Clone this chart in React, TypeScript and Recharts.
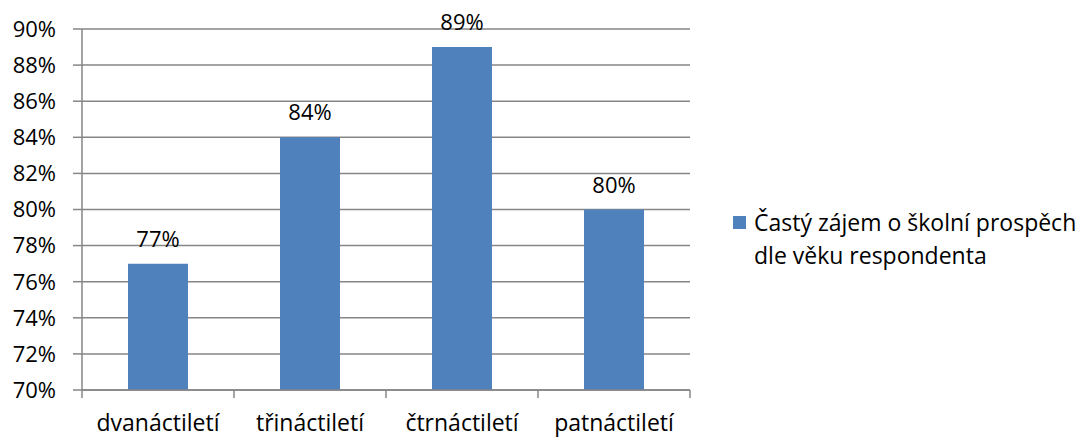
import React from "react";
import {
  BarChart,
  Bar,
  CartesianGrid,
  XAxis,
  YAxis,
  LabelList,
} from "recharts";

const categories = ["dvanáctiletí", "třináctiletí", "čtrnáctiletí", "patnáctiletí"];
const values = [77, 84, 89, 80];
const yTicks = [70, 72, 74, 76, 78, 80, 82, 84, 86, 88, 90];
const seriesName = "Častý zájem o školní prospěch dle věku respondenta";

const rows = categories.map((c, i) => ({ label: c, value: values[i] }));

const W = 1085;
const H = 445;
const AXIS_W = 82;
const MARGIN_RIGHT = 395;
const PLOT_W = W - AXIS_W - MARGIN_RIGHT;
const HALF_BAND = PLOT_W / categories.length / 2;
const GRAY = "#868686";
const BLUE = "#4F81BD";
const FONT = "'Open Sans', sans-serif";

function CategoryTick(props: any) {
  const { x, y, payload, index } = props;
  const top = y - 8;
  return (
    <g>
      <line x1={x - HALF_BAND} x2={x - HALF_BAND} y1={top} y2={top + 8} stroke={GRAY} strokeWidth={1.5} />
      {index === categories.length - 1 && (
        <line x1={x + HALF_BAND} x2={x + HALF_BAND} y1={top} y2={top + 8} stroke={GRAY} strokeWidth={1.5} />
      )}
      <text x={x} y={top + 33} dy="0.35em" textAnchor="middle" fill="#000" fontSize={23} fontFamily={FONT}>
        {payload.value}
      </text>
    </g>
  );
}

function LegendBox() {
  const [first, ...rest] = seriesName.split(" dle ");
  return (
    <div
      style={{
        position: "absolute",
        left: 733,
        top: 206,
        width: 350,
        display: "flex",
        alignItems: "flex-start",
        fontFamily: FONT,
        fontSize: 23,
        color: "#000",
      }}
    >
      <div style={{ width: 13, height: 13, background: BLUE, marginTop: 10, marginRight: 8, flex: "none" }} />
      <div style={{ lineHeight: "33px", whiteSpace: "nowrap" }}>
        {first}
        <br />
        {"dle " + rest.join(" dle ")}
      </div>
    </div>
  );
}

export default function App() {
  return (
    <div style={{ position: "absolute", left: 0, top: 0, width: W, height: H, background: "#fff" }}>
      <BarChart
        width={W}
        height={H}
        data={rows}
        margin={{ top: 29, right: MARGIN_RIGHT, left: 0, bottom: 0 }}
      >
        <CartesianGrid stroke={GRAY} strokeWidth={1.5} vertical={false} />
        <XAxis
          dataKey="label"
          height={55}
          axisLine={{ stroke: GRAY, strokeWidth: 1.5 }}
          tickLine={false}
          tick={<CategoryTick />}
          interval={0}
        />
        <YAxis
          width={AXIS_W}
          domain={[70, 90]}
          ticks={yTicks}
          interval={0}
          tickFormatter={(v: number) => `${v}%`}
          axisLine={{ stroke: GRAY, strokeWidth: 1.5 }}
          tickLine={{ stroke: GRAY, strokeWidth: 1.5 }}
          tickSize={9}
          tickMargin={17}
          tick={{ fill: "#000", fontSize: 22, fontFamily: FONT }}
          allowDataOverflow
        />
        <Bar dataKey="value" name={seriesName} fill={BLUE} barSize={60} isAnimationActive={false}>
          <LabelList
            dataKey="value"
            position="top"
            offset={17}
            formatter={(v: any) => `${v}%`}
            fill="#000"
            fontSize={22}
            fontFamily={FONT}
          />
        </Bar>
      </BarChart>
      <LegendBox />
    </div>
  );
}
